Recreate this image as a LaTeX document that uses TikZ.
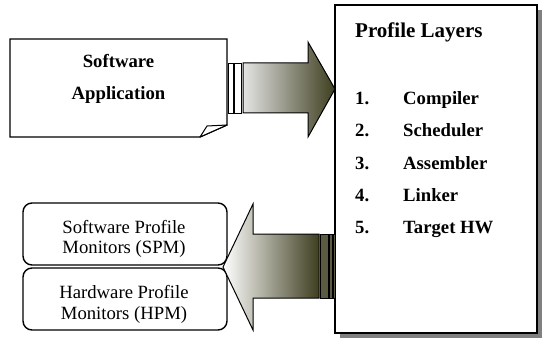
\documentclass[tikz,border=0pt]{standalone}
\usepackage{fontspec}
\setmainfont{Liberation Serif}
\definecolor{olivedark}{RGB}{62,62,32}
\definecolor{lightgr}{RGB}{228,228,228}
\definecolor{shadowgr}{RGB}{128,128,128}
\tikzset{
  boxline/.style={draw=black, line width=1.4pt},
  boldtxt/.style={font=\fontsize{18.7}{20}\selectfont\bfseries, inner sep=0pt},
  regtxt/.style={font=\fontsize{18.7}{20}\selectfont, inner sep=0pt},
  titletxt/.style={font=\fontsize{21}{22}\selectfont\bfseries, inner sep=0pt},
  stripe/.style={draw=black, line width=0.6pt},
}
\begin{document}
\begin{tikzpicture}[x=1pt,y=-1pt]
\useasboundingbox (0,0) rectangle (545,339);
% Profile layers box with shadow
\fill[shadowgr] (340,10) rectangle (542,338);
\draw[boxline, fill=white] (335,5) rectangle (537,333);
\node[titletxt, anchor=base west] (title) at (355,38) {Profile Layers};
\foreach \n/\t/\yy in {1/Compiler/105, 2/Scheduler/137, 3/Assembler/169, 4/Linker/201, 5/Target HW/233}{
  \node[boldtxt, anchor=base west] (num\n) at (355,\yy) {\n.};
  \node[boldtxt, anchor=base west] (item\n) at (403,\yy) {\t};
}
% Software application note
\draw[boxline, fill=white] (10,39) -- (227,39) -- (227,125) -- (200,137) -- (10,137) -- cycle;
\draw[line width=1pt, fill=white, line join=round] (200,137) -- (207,126) -- (227,125) -- cycle;
\node[boldtxt, anchor=base] (sw1) at (118.5,68) {Software};
\node[boldtxt, anchor=base] (sw2) at (118.5,100) {Application};
% top arrow stripes
\draw[stripe, fill=white] (228,63) rectangle (233,113);
\draw[stripe, fill=white] (234,63) rectangle (241,113);
% top arrow
\shade[left color=lightgr, right color=olivedark, draw=black, line width=1pt, line join=miter]
  (243,63) -- (308,63) -- (308,42) -- (335,89) -- (308,137) -- (308,113) -- (243,113) -- cycle;
% monitors boxes
\draw[boxline, rounded corners=9pt, fill=white] (23,203) rectangle (227,265);
\draw[boxline, rounded corners=9pt, fill=white] (23,268) rectangle (227,330);
\node[regtxt, anchor=base] (spm1) at (124,233) {Software Profile};
\node[regtxt, anchor=base] (spm2) at (124,253) {Monitors (SPM)};
\node[regtxt, anchor=base] (hpm1) at (124,298) {Hardware Profile};
\node[regtxt, anchor=base] (hpm2) at (124,319) {Monitors (HPM)};
% bottom arrow
\shade[left color=white, right color=olivedark, draw=black, line width=1pt, line join=miter]
  (319,234) -- (253,234) -- (253,204) -- (223,267) -- (253,330) -- (253,298) -- (319,298) -- cycle;
\draw[stripe, fill=olivedark!85!white] (320,234) rectangle (328,298);
\draw[stripe, fill=olivedark!85!white] (329,234) rectangle (332.5,298);
\draw[stripe, fill=olivedark!85!white] (333,234) rectangle (335,298);
\end{tikzpicture}
\end{document}
